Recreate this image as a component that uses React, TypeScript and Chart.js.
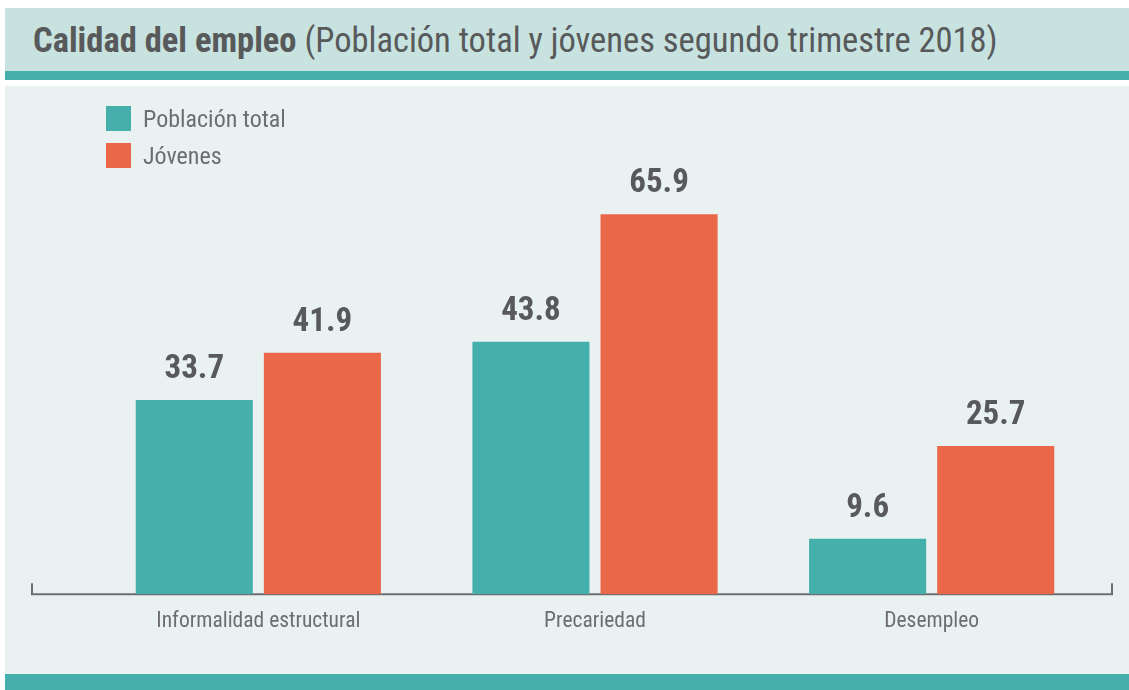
import React, { useEffect, useRef } from "react";
import { Chart, registerables } from "chart.js";

Chart.register(...registerables);

const categories = ["Informalidad estructural", "Precariedad", "Desempleo"];
const poblacionTotal = [33.7, 43.8, 9.6];
const jovenes = [41.9, 65.9, 25.7];
const seriesNames = ["Población total", "Jóvenes"];
const titleBold = "Calidad del empleo";
const titleRest = "(Población total y jóvenes segundo trimestre 2018)";

const TEAL = "#44AFAB";
const ORANGE = "#EA6749";
const HEADER_BG = "#C7E2DF";
const CHART_BG = "#E9F2F1";
const TEXT_DARK = "#58595B";
const TEXT_MID = "#6D6E71";
const FONT = '"Roboto Condensed", "Liberation Sans Narrow", sans-serif';

const axisLinePlugin = {
  id: "axisLine",
  beforeDatasetsDraw(chart: any) {
    const { ctx, chartArea } = chart;
    const y = chartArea.bottom;
    const x0 = chartArea.left - 58;
    const x1 = chartArea.right + 12;
    ctx.save();
    ctx.strokeStyle = TEXT_MID;
    ctx.lineWidth = 2;
    ctx.beginPath();
    ctx.moveTo(x0, y - 11);
    ctx.lineTo(x0, y);
    ctx.lineTo(x1, y);
    ctx.lineTo(x1, y - 11);
    ctx.stroke();
    ctx.restore();
  },
};

const valueLabelPlugin = {
  id: "valueLabels",
  afterDatasetsDraw(chart: any) {
    const { ctx } = chart;
    ctx.save();
    ctx.fillStyle = TEXT_DARK;
    ctx.font = `bold 33px ${FONT}`;
    ctx.textAlign = "center";
    ctx.textBaseline = "alphabetic";
    chart.data.datasets.forEach((ds: any, di: number) => {
      const meta = chart.getDatasetMeta(di);
      meta.data.forEach((bar: any, i: number) => {
        ctx.fillText(Number(ds.data[i]).toFixed(1), bar.x, bar.y - 22);
      });
    });
    ctx.restore();
  },
};

export default function App() {
  const canvasRef = useRef<HTMLCanvasElement | null>(null);

  useEffect(() => {
    if (!canvasRef.current) return;
    const chart = new Chart(canvasRef.current, {
      type: "bar",
      data: {
        labels: categories,
        datasets: [
          {
            label: seriesNames[0],
            data: poblacionTotal,
            backgroundColor: TEAL,
            borderWidth: 0,
            barPercentage: 0.914,
            categoryPercentage: 0.761,
          },
          {
            label: seriesNames[1],
            data: jovenes,
            backgroundColor: ORANGE,
            borderWidth: 0,
            barPercentage: 0.914,
            categoryPercentage: 0.761,
          },
        ],
      },
      options: {
        animation: false,
        responsive: false,
        maintainAspectRatio: false,
        layout: { padding: { top: 133, left: 90, right: 29, bottom: 40 } },
        plugins: {
          legend: { display: false },
          tooltip: { enabled: false },
          title: { display: false },
        },
        scales: {
          x: {
            grid: { display: false, drawTicks: false },
            border: { display: false },
            ticks: {
              color: TEXT_MID,
              font: { family: FONT, size: 21.5 },
              padding: 15,
              maxRotation: 0,
              autoSkip: false,
            },
          },
          y: {
            display: false,
            min: 0,
            max: 80,
          },
        },
      },
      plugins: [axisLinePlugin, valueLabelPlugin],
    });
    return () => chart.destroy();
  }, []);

  return (
    <div
      style={{
        position: "fixed",
        left: 0,
        top: 0,
        width: 1129,
        height: 690,
        background: "#ffffff",
        overflow: "hidden",
        fontFamily: FONT,
      }}
    >
      <div style={{ position: "absolute", left: 5, top: 8, width: 1124, height: 63, background: HEADER_BG }} />
      <div style={{ position: "absolute", left: 5, top: 71, width: 1124, height: 9, background: TEAL }} />
      <div style={{ position: "absolute", left: 5, top: 86, width: 1124, height: 588, background: CHART_BG }} />
      <div style={{ position: "absolute", left: 5, top: 674, width: 1124, height: 16, background: TEAL }} />
      <div
        style={{
          position: "absolute",
          left: 33,
          top: 16,
          fontSize: 34.5,
          lineHeight: "48px",
          color: TEXT_DARK,
          whiteSpace: "nowrap",
        }}
      >
        <span style={{ fontWeight: "bold" }}>{titleBold}</span>
        <span> {titleRest}</span>
      </div>
      <canvas
        ref={canvasRef}
        width={1129}
        height={690}
        style={{ position: "absolute", left: 0, top: 0, width: 1129, height: 690 }}
      />
      {seriesNames.map((name, i) => (
        <div
          key={name}
          style={{
            position: "absolute",
            left: 106,
            top: 106 + i * 37,
            height: 25,
            display: "flex",
            alignItems: "center",
            color: TEXT_MID,
            fontSize: 24,
            whiteSpace: "nowrap",
          }}
        >
          <span style={{ display: "inline-block", width: 25, height: 25, background: i === 0 ? TEAL : ORANGE, marginRight: 12 }} />
          <span>{name}</span>
        </div>
      ))}
    </div>
  );
}
